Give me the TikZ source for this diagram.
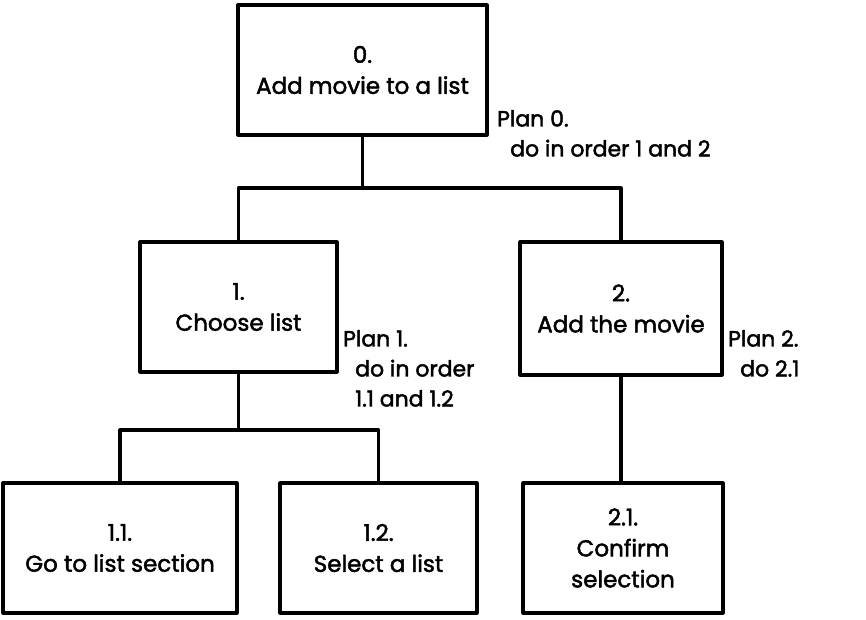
\documentclass[tikz,border=0pt]{standalone}
\usepackage{fontspec}
\setmainfont{Poppins}[FakeBold=2]
\begin{document}
\begin{tikzpicture}[x=1pt,y=-1pt,
  box/.style={draw=black,line width=3.2pt,line join=round,minimum width=#1,inner sep=0pt,align=center,font=\fontsize{23}{31}\selectfont},
  conn/.style={draw=black,line width=3.2pt,line join=round},
  plan/.style={anchor=north west,align=left,inner sep=0pt,font=\fontsize{22}{30}\selectfont}]
\useasboundingbox (0,0) rectangle (866,620);
\node[box=249pt,minimum height=130pt] (b0) at (362.5,70) {0.\\Add movie to a list};
\node[box=197pt,minimum height=130pt] (b1) at (238.5,307) {1.\\Choose list};
\node[box=202pt,minimum height=133pt] (b2) at (621,308.5) {2.\\Add the movie};
\node[box=234pt,minimum height=130pt] (b11) at (120,548) {1.1.\\Go to list section};
\node[box=197pt,minimum height=130pt] (b12) at (378.5,548) {1.2.\\Select a list};
\node[box=200pt,minimum height=130pt] (b21) at (623,548) {2.1.\\Confirm\\selection};
\coordinate (j0) at (362.5,188);
\coordinate (j1) at (238.5,430);
\draw[conn] (b0.south) -- (j0);
\draw[conn] (b1.north) |- (j0) -| (b2.north);
\draw[conn] (b1.south) -- (j1);
\draw[conn] (b11.north) |- (j1) -| (b12.north);
\draw[conn] (b2.south) -- (b2.south |- b21.north);
\node[plan] (p0) at (497,110) {Plan 0.\\\hspace{13pt}do in order 1 and 2};
\node[plan] (p1) at (343,330) {Plan 1.\\\hspace{12pt}do in order\\\hspace{12pt}1.1 and 1.2};
\node[plan] (p2) at (728,330) {Plan 2.\\\hspace{12pt}do 2.1};
\end{tikzpicture}
\end{document}
